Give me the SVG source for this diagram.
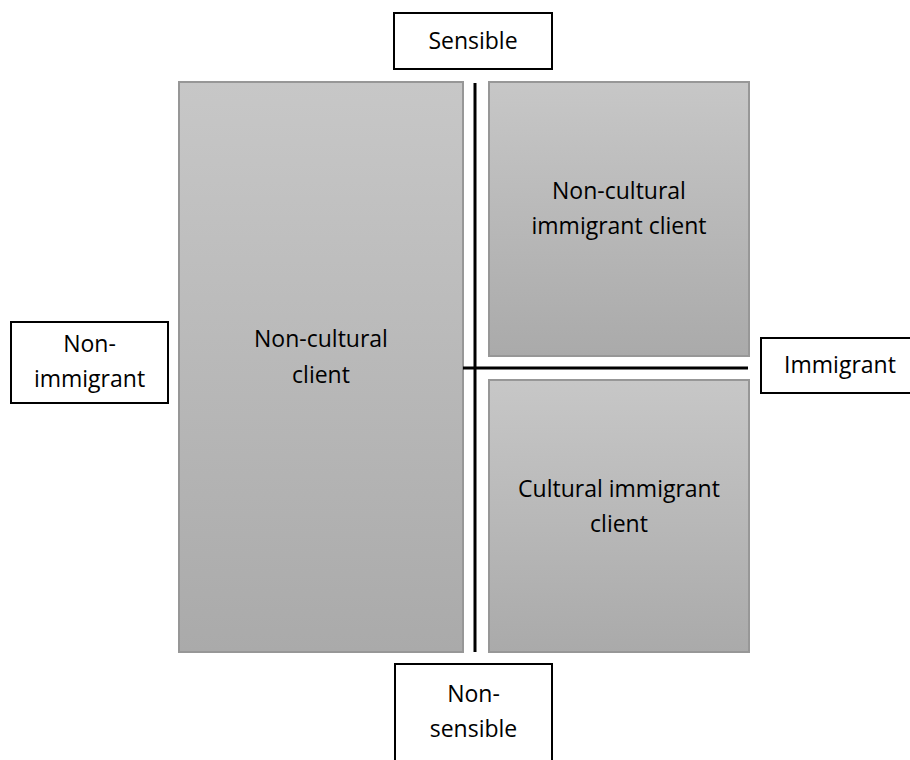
<svg xmlns="http://www.w3.org/2000/svg" width="910" height="760" viewBox="0 0 910 760">
<defs>
<linearGradient id="g" x1="0" y1="0" x2="0" y2="1">
<stop offset="0" stop-color="#c7c7c7"/>
<stop offset="1" stop-color="#aaaaaa"/>
</linearGradient>
<style>
.q{fill:url(#g);stroke:#979797;stroke-width:2}
.b{fill:#ffffff;stroke:#000000;stroke-width:2}
.t{font-family:"Open Sans","Liberation Sans",sans-serif;font-size:23px;fill:#000000;text-anchor:middle}
.ax{stroke:#000000;stroke-width:3;fill:none}
</style>
</defs>
<rect width="910" height="760" fill="#ffffff"/>
<g id="non-cultural-client">
<rect class="q" x="179" y="82" width="284" height="570"/>
<text class="t" x="321" y="347">Non-cultural</text>
<text class="t" x="321" y="383">client</text>
</g>
<g id="non-cultural-immigrant-client">
<rect class="q" x="489" y="82" width="260" height="274"/>
<text class="t" x="619" y="199">Non-cultural</text>
<text class="t" x="619" y="234">immigrant client</text>
</g>
<g id="cultural-immigrant-client">
<rect class="q" x="489" y="380" width="260" height="272"/>
<text class="t" x="619" y="497">Cultural immigrant</text>
<text class="t" x="619" y="532">client</text>
</g>
<g id="connectors">
<line class="ax" x1="475" y1="83" x2="475" y2="652"/>
<line class="ax" x1="463" y1="368" x2="748" y2="368"/>
</g>
<g id="sensible">
<rect class="b" x="394" y="13" width="158" height="56"/>
<text class="t" x="473" y="49">Sensible</text>
</g>
<g id="non-sensible">
<rect class="b" x="395" y="664" width="157" height="110"/>
<text class="t" x="473.5" y="702">Non-</text>
<text class="t" x="473.5" y="737">sensible</text>
</g>
<g id="non-immigrant">
<rect class="b" x="11" y="322" width="157" height="81"/>
<text class="t" x="89.5" y="352">Non-</text>
<text class="t" x="89.5" y="387">immigrant</text>
</g>
<g id="immigrant">
<rect class="b" x="761" y="338" width="160" height="55"/>
<text class="t" x="840" y="373">Immigrant</text>
</g>
</svg>
